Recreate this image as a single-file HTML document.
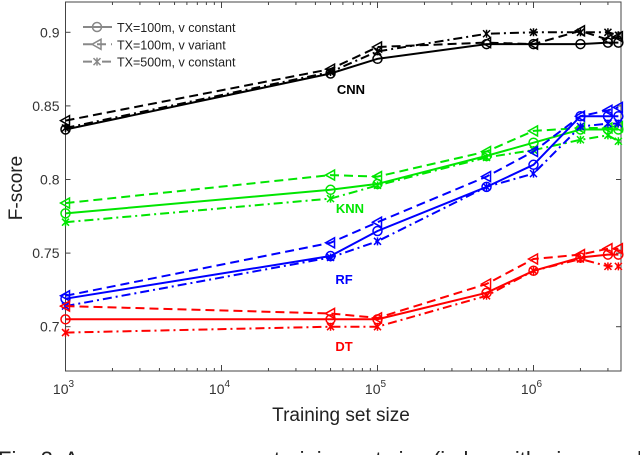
<!DOCTYPE html>
<html><head><meta charset="utf-8"><style>
body{margin:0;background:#fff;width:640px;height:455px;overflow:hidden}
svg{display:block}
text{font-family:"Liberation Sans",sans-serif}
</style></head><body>
<svg id="chart" width="640" height="455" xmlns="http://www.w3.org/2000/svg"></svg>
<script>
const xValues=[1e3,5e4,1e5,5e5,1e6,2e6,3e6,3.5e6];
const cnnSolid=[0.834,0.872,0.882,0.892,0.892,0.892,0.893,0.893];
const cnnDashed=[0.840,0.875,0.890,0.893,0.892,0.901,0.895,0.897];
const cnnDashdot=[0.835,0.873,0.887,0.899,0.900,0.900,0.900,0.898];
const knnSolid=[0.777,0.793,0.797,0.816,0.825,0.834,0.834,0.834];
const knnDashed=[0.784,0.803,0.802,0.819,0.833,0.835,0.835,0.836];
const knnDashdot=[0.771,0.787,0.796,0.815,0.820,0.827,0.830,0.826];
const rfSolid=[0.719,0.748,0.765,0.795,0.810,0.843,0.843,0.843];
const rfDashed=[0.721,0.757,0.771,0.802,0.819,0.843,0.847,0.849];
const rfDashdot=[0.714,0.747,0.758,0.795,0.804,0.836,0.838,0.838];
const dtSolid=[0.705,0.705,0.705,0.723,0.738,0.747,0.749,0.749];
const dtDashed=[0.714,0.709,0.706,0.729,0.746,0.749,0.753,0.753];
const dtDashdot=[0.696,0.700,0.700,0.721,0.738,0.746,0.741,0.741];
const yTicks=[0.7,0.75,0.8,0.85,0.9];
const yTickLabels=["0.7","0.75","0.8","0.85","0.9"];
const xDecades=[3,4,5,6];

const L=65.5,R=621,T=2,B=371;
const X=v=>L+(Math.log10(v)-3)*156;
const Y=v=>326.7-(v-0.7)*1472;
const svg=document.getElementById('chart');
const NS="http://www.w3.org/2000/svg";
function mk(tag,attrs,parent){const e=document.createElementNS(NS,tag);for(const k in attrs)e.setAttribute(k,attrs[k]);(parent||svg).appendChild(e);return e;}

const frame=mk('rect',{x:L,y:T,width:R-L,height:B-T,fill:'none',stroke:'#444','stroke-width':1});


yTicks.forEach((v,i)=>{
  const y=Y(v);
  const t1=mk('line',{x1:L,x2:L+5,y1:y,y2:y,stroke:'#444'});
  
  
  mk('line',{x1:R,x2:R-5,y1:y,y2:y,stroke:'#444'});
  const tx=mk('text',{x:L-6,y:y+5,'text-anchor':'end','font-size':14,fill:'#333'});
  tx.textContent=yTickLabels[i];
  
  
});
xDecades.forEach(d=>{
  for(let m=1;m<10;m++){
    const v=m*Math.pow(10,d);const x=X(v);
    if(x>R+0.5)break;
    const len=m===1?6:3;
    const t=mk('line',{x1:x,x2:x,y1:B,y2:B-len,stroke:'#444'});
    
    
    mk('line',{x1:x,x2:x,y1:T,y2:T+len,stroke:'#444'});
  }
  const tx=mk('text',{x:X(Math.pow(10,d))-2,y:B+23,'text-anchor':'middle','font-size':14,fill:'#333'});
  tx.innerHTML='10<tspan dy="-7" font-size="10">'+d+'</tspan>';
  
  
});
const xt=mk('text',{x:341,y:421,'text-anchor':'middle','font-size':19,fill:'#222'});
xt.textContent='Training set size';


const yt=mk('text',{x:0,y:0,'text-anchor':'middle','font-size':19,fill:'#222',transform:'translate(22,188) rotate(-90)'});
yt.textContent='F-score';



function marker(g,type,x,y,c){
  if(type==='o')mk('circle',{cx:x,cy:y,r:4.5,fill:'none',stroke:c,'stroke-width':1.5},g);
  else if(type==='<')mk('path',{d:`M${x-5},${y} L${x+4},${y-5} L${x+4},${y+5} Z`,fill:'none',stroke:c,'stroke-width':1.5},g);
  else mk('path',{d:`M${x-3.5},${y-3.5} L${x+3.5},${y+3.5} M${x-3.5},${y+3.5} L${x+3.5},${y-3.5} M${x},${y-4} L${x},${y+4}`,fill:'none',stroke:c,'stroke-width':1.5},g);
}
const dashes={solid:'',dashed:'9,5',dashdot:'9,4,2,4'};
function series(name,vals,color,style,mtype){
  const g=mk('g',{});
  
  
  const pts=vals.map((v,i)=>X(xValues[i]).toFixed(1)+','+Y(v).toFixed(1)).join(' ');
  mk('polyline',{points:pts,fill:'none',stroke:color,'stroke-width':2,'stroke-dasharray':dashes[style]},g);
  vals.forEach((v,i)=>marker(g,mtype,X(xValues[i]),Y(v),color));
}
const K='#000',G='#00e600',Bl='#0000ff',Rd='#ff0000';
series('cnn-dashdot',cnnDashdot,K,'dashdot','x');
series('cnn-dashed',cnnDashed,K,'dashed','<');
series('cnn-solid',cnnSolid,K,'solid','o');
series('knn-dashdot',knnDashdot,G,'dashdot','x');
series('knn-dashed',knnDashed,G,'dashed','<');
series('knn-solid',knnSolid,G,'solid','o');
series('rf-dashdot',rfDashdot,Bl,'dashdot','x');
series('rf-dashed',rfDashed,Bl,'dashed','<');
series('rf-solid',rfSolid,Bl,'solid','o');
series('dt-dashdot',dtDashdot,Rd,'dashdot','x');
series('dt-dashed',dtDashed,Rd,'dashed','<');
series('dt-solid',dtSolid,Rd,'solid','o');

[['CNN',351,94,K,'cnn-label'],['KNN',350,213,G,'knn-label'],['RF',344,284,Bl,'rf-label'],['DT',344,351,Rd,'dt-label']].forEach(a=>{
  const t=mk('text',{x:a[1],y:a[2],'text-anchor':'middle','font-size':13,'font-weight':'bold',fill:a[3]});
  t.textContent=a[0];
  
  
});
const legend=[['TX=100m, v constant','solid','o'],['TX=100m, v variant','dashed','<'],['TX=500m, v constant','dashdot','x']];
legend.forEach((e,i)=>{
  const y=27+i*17.3;
  const g=mk('g',{});
  
  
  mk('line',{x1:83,x2:112,y1:y,y2:y,stroke:'#888','stroke-width':2,'stroke-dasharray':dashes[e[1]]},g);
  marker(g,e[2],97,y,'#888');
  const t=mk('text',{x:117,y:y+5,'font-size':12.5,fill:'#222'},g);
  t.textContent=e[0];
});
const cap=mk('text',{x:-2,y:467,'font-size':22,fill:'#222'});
cap.setAttribute('font-family','Liberation Serif, serif');
cap.textContent='Fig. 3:  Average accuracy vs training set size (in log with given scale)';


</script>
</body></html>
